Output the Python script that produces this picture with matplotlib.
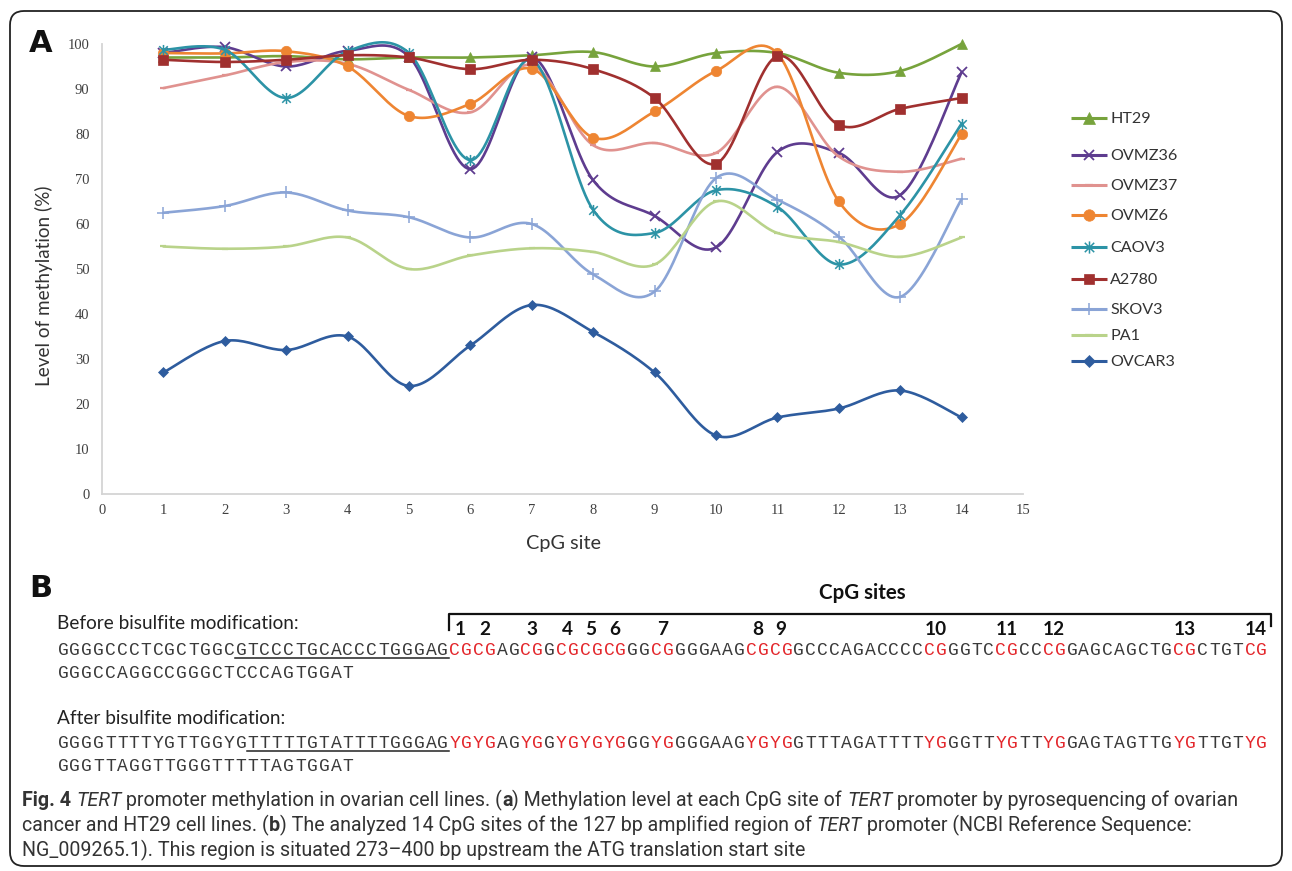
import matplotlib
matplotlib.use("Agg")
import matplotlib.pyplot as plt
import numpy as np
from matplotlib.patches import FancyBboxPatch
from matplotlib.font_manager import FontProperties, fontManager
from matplotlib.path import Path

W, H = 1292, 871

# ---- panel A data ----
sites = list(range(1, 15))
ht29 = [97, 97, 97.3, 96.6, 97, 97, 97.5, 98.2, 95, 98, 98, 93.6, 94, 100]
ovmz36 = [98, 99.3, 95, 98.5, 97.2, 72.2, 97, 69.7, 61.8, 54.8, 76, 75.8, 66.4, 93.7]
ovmz37 = [90.2, 93, 96, 95.6, 89.8, 84.8, 95.3, 77.5, 78, 75.8, 90.5, 75, 71.6, 74.5]
ovmz6 = [98, 97.9, 98.4, 95, 84, 86.7, 94.5, 79.2, 85, 94, 97.9, 65, 60, 80]
caov3 = [98.7, 98.7, 88, 98.4, 98, 74.2, 96.5, 63.1, 58, 67.5, 63.8, 51, 62, 82.3]
a2780 = [96.5, 96, 96.5, 97.5, 97, 94.4, 96.5, 94.4, 88, 73.4, 97.3, 82, 85.6, 88]
skov3 = [62.5, 64, 67, 63, 61.5, 57, 60, 48.8, 45, 70.2, 65.4, 57.2, 43.8, 65.5]
pa1 = [55, 54.5, 55, 57, 50, 53, 54.6, 53.8, 51, 65, 58, 56, 52.7, 57]
ovcar3 = [27, 34, 32, 35, 24, 33, 42, 36, 27, 13, 17, 19, 23, 17]

series_names = ["HT29", "OVMZ36", "OVMZ37", "OVMZ6", "CAOV3", "A2780", "SKOV3", "PA1", "OVCAR3"]
series_values = [ht29, ovmz36, ovmz37, ovmz6, caov3, a2780, skov3, pa1, ovcar3]
x_ticks = list(range(0, 16))
y_ticks = list(range(0, 101, 10))

# ---- panel B text (lower case = highlighted CpG) ----
before_seq = "GGGGCCCTCGCTGGCGTCCCTGCACCCTGGGAGcgcgAGcgGcgcgcgGGcgGGGAAGcgcgGCCCAGACCCCcgGGTCcgCCcgGAGCAGCTGcgCTGTcg"
before_tail = "GGGCCAGGCCGGGCTCCCAGTGGAT"
after_seq = "GGGGTTTTYGTTGGYGTTTTTGTATTTTGGGAGygygAGygGygygygGGygGGGAAGygygGTTTAGATTTTygGGTTygTTygGAGTAGTTGygTTGTyg"
after_tail = "GGGTTAGGTTGGGTTTTTAGTGGAT"
before_underline = (15, 33)
after_underline = (16, 33)

caption_lines = [
    [("Fig. 4", "b"), (" ", ""), ("TERT", "i"), (" promoter methylation in ovarian cell lines. (", ""), ("a", "b"),
     (") Methylation level at each CpG site of ", ""), ("TERT", "i"), (" promoter by pyrosequencing of ovarian", "")],
    [("cancer and HT29 cell lines. (", ""), ("b", "b"), (") The analyzed 14 CpG sites of the 127 bp amplified region of ", ""),
     ("TERT", "i"), (" promoter (NCBI Reference Sequence:", "")],
    [("NG_009265.1). This region is situated 273\u2013400 bp upstream the ATG translation start site", "")],
]

asterisk = Path([(-1, -1), (1, 1), (-1, 1), (1, -1), (0, -1.3), (0, 1.3)],
                [Path.MOVETO, Path.LINETO, Path.MOVETO, Path.LINETO, Path.MOVETO, Path.LINETO])

styles = {
    "HT29": dict(color="#77A33C", marker="^", ms=7.5, mew=0.5),
    "OVMZ36": dict(color="#5E3C8F", marker="x", ms=7, mew=1.3),
    "OVMZ37": dict(color="#E0928F", marker="_", ms=5, mew=1.6),
    "OVMZ6": dict(color="#EE8532", marker="o", ms=7.5, mew=0.5),
    "CAOV3": dict(color="#2C93A6", marker=asterisk, ms=8, mew=1.1),
    "A2780": dict(color="#A0302F", marker="s", ms=6.5, mew=0.5),
    "SKOV3": dict(color="#8AA4D6", marker="+", ms=8, mew=1.1),
    "PA1": dict(color="#B9D38A", marker="_", ms=5, mew=1.6),
    "OVCAR3": dict(color="#2E5C9E", marker="D", ms=5.5, mew=0.5),
}

names = {f.name for f in fontManager.ttflist}
SANS = "Lato" if "Lato" in names else "DejaVu Sans"
CAP = "Liberation Sans Narrow" if "Liberation Sans Narrow" in names else "Roboto"
MONO = "Liberation Mono"
SERIF = "Liberation Serif"


def smooth(x, y, n=24):
    # Bezier smoothing through the points (like spreadsheet smoothed lines)
    p = np.column_stack([x, y]).astype(float)
    out = []
    for i in range(len(p) - 1):
        p0 = p[i - 1] if i > 0 else p[i]
        p1, p2 = p[i], p[i + 1]
        p3 = p[i + 2] if i + 2 < len(p) else p[i + 1]
        c1 = p1 + (p2 - p0) / 6
        c2 = p2 - (p3 - p1) / 6
        t = np.linspace(0, 1, n)[:, None]
        seg = (1 - t) ** 3 * p1 + 3 * (1 - t) ** 2 * t * c1 + 3 * (1 - t) * t ** 2 * c2 + t ** 3 * p2
        out.append(seg if i == 0 else seg[1:])
    out = np.vstack(out)
    return out[:, 0], out[:, 1]


fig = plt.figure(figsize=(W / 100, H / 100), dpi=100)
renderer = fig.canvas.get_renderer()

bg = fig.add_axes([0, 0, 1, 1])
bg.set_xlim(0, W)
bg.set_ylim(H, 0)
bg.axis("off")


def text_w(s, prop):
    w1, _, _ = renderer.get_text_width_height_descent("|" + s + "|", prop, False)
    w2, _, _ = renderer.get_text_width_height_descent("||", prop, False)
    return w1 - w2


def fit(s, target, family, weight="normal"):
    prop = FontProperties(family=family, size=10, weight=weight)
    return 10 * target / text_w(s, prop)


def runs_width(runs, size, family):
    total = 0
    for s, st in runs:
        prop = FontProperties(family=family, size=size, weight="bold" if st == "b" else "normal",
                              style="italic" if st == "i" else "normal")
        total += text_w(s, prop)
    return total


def draw_runs(x, y, runs, size, family, color):
    for s, st in runs:
        prop = FontProperties(family=family, size=size, weight="bold" if st == "b" else "normal",
                              style="italic" if st == "i" else "normal")
        bg.text(x, y, s, fontproperties=prop, color=color, va="baseline", ha="left")
        x += text_w(s, prop)


# frame
bg.add_patch(FancyBboxPatch((10, 11), 1272, 855, boxstyle="round,pad=0,rounding_size=14",
                            fc="none", ec="#222222", lw=1.3))

# ---- panel A ----
bg.text(29, 52, "A", fontsize=22, fontweight="bold", family="DejaVu Sans", va="baseline", color="#111111")

ax = fig.add_axes([102 / W, 1 - 494 / H, (1023 - 102) / W, (494 - 44) / H])
ax.set_facecolor("none")
ax.set_xlim(0, 15)
ax.set_ylim(0, 100)
for side in ["top", "right"]:
    ax.spines[side].set_visible(False)
for side in ["left", "bottom"]:
    ax.spines[side].set_color("#D4D4D4")
    ax.spines[side].set_linewidth(1.3)
ax.set_xticks(x_ticks)
ax.set_yticks(y_ticks)
ax.tick_params(length=0, labelsize=10.5, labelcolor="#404040")
ax.tick_params(axis="y", pad=9)
ax.tick_params(axis="x", pad=7)
for lab in ax.get_xticklabels() + ax.get_yticklabels():
    lab.set_family(SERIF)

for name, vals in zip(series_names, series_values):
    st = styles[name]
    xs, ys = smooth(sites, vals)
    ax.plot(xs, ys, color=st["color"], lw=1.9, clip_on=False, solid_capstyle="round")
    ax.plot(sites, vals, ls="none", marker=st["marker"], ms=st["ms"], mew=st["mew"],
            color=st["color"], mec=st["color"], clip_on=False)

ylab = "Level of methylation (%)"
bg.text(44, 286, ylab, rotation=90, ha="center", va="center", family=SANS,
        fontsize=fit(ylab, 200, SANS), color="#333333")
bg.text(563, 543, "CpG site", ha="center", va="center", family=SANS,
        fontsize=fit("CpG site", 75, SANS), color="#333333")

# legend
leg_y = [118, 155, 185, 215, 247, 279, 309, 335, 361]
leg_size = fit("OVMZ36", 67, SANS)
for name, y in zip(series_names, leg_y):
    st = styles[name]
    bg.plot([1071, 1107], [y, y], color=st["color"], lw=2.2, solid_capstyle="butt")
    bg.plot([1089], [y], ls="none", marker=st["marker"], ms=st["ms"] * 1.1, mew=st["mew"],
            color=st["color"], mec=st["color"])
    bg.text(1110, y + 1, name, family=SANS, fontsize=leg_size, va="center", ha="left", color="#333333")

# ---- panel B ----
bg.text(29, 597, "B", fontsize=22, fontweight="bold", family="DejaVu Sans", va="baseline", color="#111111")

lbl_size = fit("Before bisulfite modification:", 243, SANS)
bg.text(57, 629, "Before bisulfite modification:", family=SANS, fontsize=lbl_size, va="baseline", color="#222222")
bg.text(57, 724, "After bisulfite modification:", family=SANS, fontsize=lbl_size, va="baseline", color="#222222")

x0, cw = 57, 11.87
mono_size = 13
red, dark = "#E3262B", "#3A3A3A"


def draw_seq(seq, base):
    for i, ch in enumerate(seq):
        bg.text(x0 + i * cw + cw / 2, base, ch.upper(), family=MONO, fontsize=mono_size,
                ha="center", va="baseline", color=red if ch.islower() else dark)


draw_seq(before_seq, 655)
draw_seq(before_tail, 678)
draw_seq(after_seq, 748)
draw_seq(after_tail, 771)
for (a, b), base in [(before_underline, 655), (after_underline, 748)]:
    bg.plot([x0 + a * cw, x0 + b * cw], [base + 3, base + 3], color="#222222", lw=1.1)

# CpG site numbers over each highlighted pair
low = [i for i, ch in enumerate(before_seq) if ch.islower()]
starts = low[::2]
num_size = fit("10", 22, SANS, "bold")
for k, i in enumerate(starts, start=1):
    bg.text(x0 + (i + 1) * cw, 635, str(k), family=SANS, fontweight="bold", fontsize=num_size,
            ha="center", va="baseline", color="#111111")

bg.plot([449, 449, 1271, 1271], [630, 614, 614, 626], color="#111111", lw=1.6)
bg.text(862, 593, "CpG sites", family=SANS, fontweight="bold", fontsize=fit("CpG sites", 87, SANS, "bold"),
        ha="center", va="center", color="#111111")

# ---- caption ----
cap_size = 10 * 1216 / runs_width(caption_lines[0], 10, CAP)
for runs, base in zip(caption_lines, [806, 831, 856]):
    draw_runs(22, base, runs, cap_size, CAP, "#333333")

fig.savefig("out.png", dpi=100)
